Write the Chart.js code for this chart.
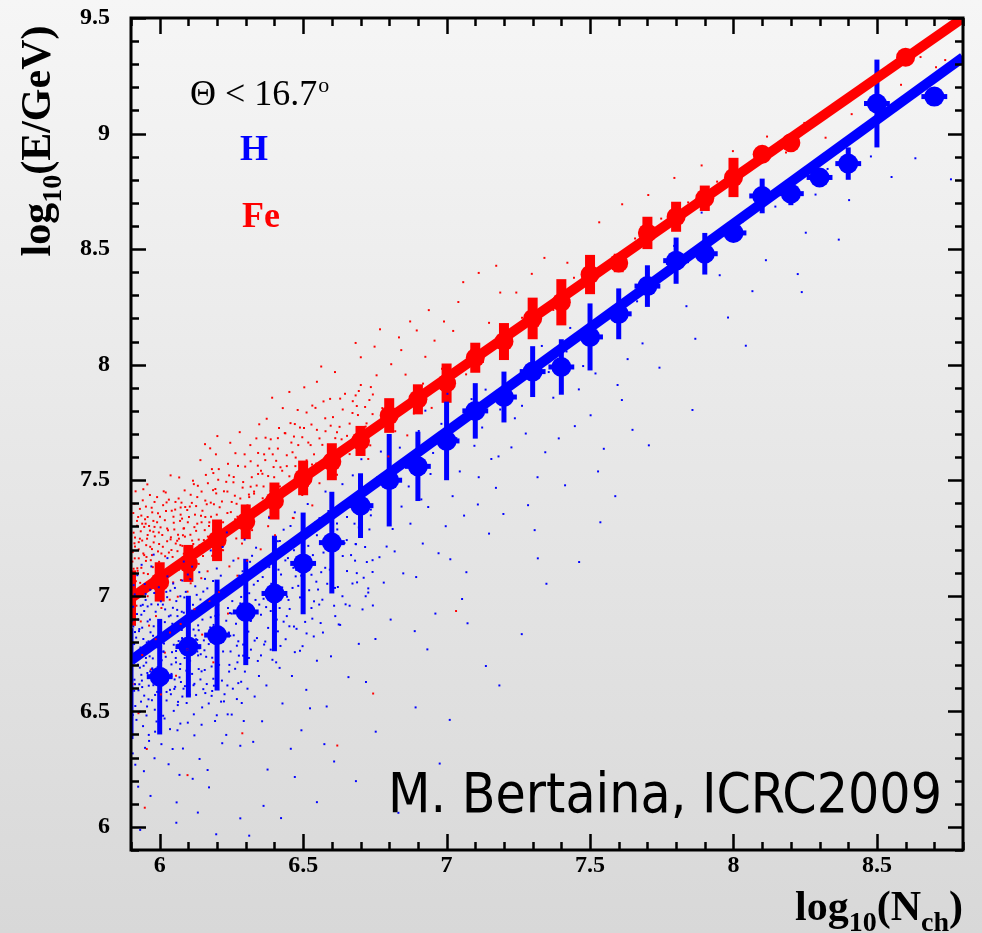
<!DOCTYPE html>
<html>
<head>
<meta charset="utf-8">
<script src="https://cdn.jsdelivr.net/npm/chart.js@4.4.1/dist/chart.umd.min.js"></script>
<style>
  html, body { margin: 0; padding: 0; }
  body { width: 982px; height: 933px; overflow: hidden; background: linear-gradient(#f6f6f6, #d8d8d8); }
  canvas { display: block; }
</style>
</head>
<body>
<canvas id="chart" width="982" height="933"></canvas>
<script>
// binned means, H (blue); the 5.9 bin sits on the frame, only its bar shows
const hX   = [5.9, 6.0, 6.1, 6.2, 6.3, 6.4, 6.5, 6.6, 6.7, 6.8, 6.9, 7.0, 7.1, 7.2, 7.3, 7.4, 7.5, 7.6, 7.7, 7.8, 7.9, 8.0, 8.1, 8.2, 8.3, 8.4, 8.5, 8.7];
const hY   = [6.62, 6.65, 6.78, 6.83, 6.93, 7.01, 7.14, 7.23, 7.39, 7.50, 7.56, 7.67, 7.80, 7.86, 7.97, 7.99, 8.12, 8.22, 8.34, 8.45, 8.48, 8.57, 8.73, 8.74, 8.81, 8.87, 9.13, 9.16];
const hErr = [0.24, 0.25, 0.22, 0.24, 0.23, 0.25, 0.22, 0.22, 0.14, 0.20, 0.15, 0.17, 0.12, 0.11, 0.11, 0.12, 0.145, 0.11, 0.09, 0.10, 0.09, 0.03, 0.075, 0.05, 0.02, 0.07, 0.19, 0.02];

// binned means, Fe (red)
const feX   = [5.9, 6.0, 6.1, 6.2, 6.3, 6.4, 6.5, 6.6, 6.7, 6.8, 6.9, 7.0, 7.1, 7.2, 7.3, 7.4, 7.5, 7.6, 7.7, 7.8, 7.9, 8.0, 8.1, 8.2, 8.6];
const feY   = [6.99, 7.06, 7.14, 7.24, 7.32, 7.41, 7.51, 7.58, 7.67, 7.78, 7.85, 7.92, 8.03, 8.10, 8.20, 8.27, 8.39, 8.44, 8.57, 8.64, 8.72, 8.81, 8.91, 8.96, 9.33];
const feErr = [0.12, 0.085, 0.08, 0.09, 0.075, 0.08, 0.075, 0.08, 0.065, 0.075, 0.065, 0.085, 0.065, 0.08, 0.09, 0.10, 0.085, 0.04, 0.07, 0.065, 0.055, 0.085, 0.02, 0.02, 0.02];

// linear fits (end points)
const hFitX  = [5.9, 8.8];
const hFitY  = [6.72, 9.33];
const feFitX = [5.9, 8.8];
const feFitY = [6.99, 9.50];

// simulated events, H
const hCloud = [
  [5.917,6.734],[6.062,6.418],[5.948,7.051],[6.091,6.889],[5.903,6.552],[6.027,7.163],[5.982,6.297],[6.074,6.627],[5.936,6.918],[6.012,6.481],
  [5.961,6.803],[6.098,7.092],[5.925,6.174],[6.043,6.756],[5.994,6.962],[6.081,6.339],[5.908,6.867],[6.036,6.593],[5.971,7.127],[6.057,6.712],
  [5.942,6.436],[6.019,6.941],[5.987,6.648],[6.069,6.225],[5.913,7.006],[6.048,6.874],[5.956,6.521],[6.088,6.784],[5.931,6.689],[6.006,6.358],
  [5.977,6.827],[6.053,7.034],[5.919,6.463],[6.095,6.569],[5.951,6.982],[6.031,6.271],[5.998,6.739],[6.077,6.931],[5.906,6.318],[6.041,6.662],
  [5.966,6.897],[6.084,7.148],[5.939,6.605],[6.015,6.794],[5.984,6.412],[6.066,6.853],[5.922,7.089],[6.049,6.502],[5.958,6.761],[6.093,6.676],
  [5.945,6.241],[6.023,7.017],[5.991,6.584],[6.072,6.447],[5.911,6.791],[6.038,6.915],[5.974,6.686],[6.059,6.106],[5.928,6.847],[6.003,6.541],
  [5.963,6.372],[6.086,6.993],[5.934,6.957],[6.017,6.628],[5.979,7.178],[6.064,6.788],[5.915,6.523],[6.045,6.337],[5.953,6.711],[6.079,6.564],
  [5.902,6.713],[6.033,6.829],[5.946,6.934],[6.118,6.854],[5.984,6.571],[6.072,6.998],[5.918,6.819],[6.157,6.679],[6.009,6.612],[5.955,6.798],
  [6.101,6.604],[5.935,6.542],[6.046,6.948],[6.178,6.907],[5.971,6.963],[6.087,6.731],[5.911,6.589],[6.129,7.004],[6.018,6.886],[5.962,6.611],
  [6.063,6.527],[6.194,6.821],[5.926,6.897],[6.041,6.703],[5.997,7.037],[6.142,6.638],[5.947,6.769],[6.078,6.817],[6.166,7.032],[5.989,6.802],
  [6.024,6.584],[5.907,6.953],[6.111,6.936],[5.976,6.729],[6.057,6.761],[6.183,6.588],[5.938,6.633],[6.094,6.882],[6.004,6.976],[5.958,6.889],
  [6.137,6.773],[6.069,6.647],[5.921,6.741],[6.028,6.844],[6.171,6.791],[5.983,6.507],[6.106,6.719],[5.951,7.008],[6.051,6.597],[6.149,6.962],
  [5.929,6.856],[6.084,6.774],[6.013,6.758],[5.967,6.673],[6.124,6.828],[6.037,7.022],[5.914,6.617],[6.188,6.874],[5.993,6.692],[6.061,6.939],
  [6.127,6.812],[6.263,7.034],[6.148,6.517],[6.291,6.741],[6.113,7.126],[6.232,6.398],[6.184,6.955],[6.274,6.622],[6.136,6.683],[6.219,7.211],
  [6.167,6.246],[6.288,6.903],[6.105,6.572],[6.246,6.827],[6.193,6.458],[6.257,7.152],[6.142,6.984],[6.207,6.701],[6.176,6.863],[6.281,6.351],
  [6.121,6.396],[6.238,6.947],[6.158,7.073],[6.296,7.243],[6.131,6.759],[6.224,6.543],[6.187,6.641],[6.269,6.784],[6.109,6.921],[6.251,6.486],
  [6.172,6.171],[6.213,7.019],[6.154,6.807],[6.284,6.995],[6.118,6.613],[6.242,6.672],[6.199,7.118],[6.266,6.879],[6.139,6.294],[6.228,6.836],
  [6.181,6.567],[6.293,6.458],[6.124,7.041],[6.204,6.918],[6.162,6.736],[6.277,7.087],[6.146,6.442],[6.255,6.598],[6.191,6.792],[6.234,7.274],
  [6.115,6.208],[6.271,6.712],[6.169,6.981],[6.218,6.362],[6.134,6.872],[6.299,6.846],[6.178,7.196],[6.245,6.925],[6.152,6.596],[6.286,6.536],
  [5.904,6.892],[6.171,6.534],[5.929,6.617],[6.312,7.011],[6.058,6.977],[5.962,6.398],[6.247,6.759],[6.103,6.842],[5.943,6.813],[6.284,6.628],
  [6.017,6.469],[5.986,6.931],[6.138,7.102],[6.226,6.574],[5.915,6.269],[6.072,6.705],[6.331,6.806],[5.957,6.666],[6.194,6.913],[6.044,6.879],
  [5.992,6.777],[6.261,7.061],[6.119,6.487],[5.937,7.134],[6.346,6.653],[6.083,6.598],[5.973,6.548],[6.209,6.821],[6.027,7.084],[5.918,6.752],
  [6.156,6.764],[6.298,6.913],[5.949,6.342],[6.064,6.541],[6.237,6.487],[5.981,7.012],[6.113,6.662],[6.322,7.173],[6.008,6.679],[5.926,6.591],
  [6.186,7.064],[6.049,6.788],[5.968,6.842],[6.274,6.803],[6.131,6.926],[5.909,7.046],[6.217,6.633],[6.091,7.017],[5.954,6.482],[6.339,6.934],
  [6.036,6.423],[6.164,6.618],[5.997,6.869],[6.253,6.977],[6.077,6.852],[5.933,6.776],[6.306,6.598],[6.143,6.747],[6.021,6.736],[5.978,6.613],
  [6.199,6.483],[6.098,6.451],[5.941,6.961],[6.289,7.106],[6.052,6.638],[6.174,6.851],[5.912,6.637],[6.232,6.892],[6.011,6.962],[6.127,6.571],
  [5.965,6.738],[6.318,6.767],[6.084,6.927],[6.243,6.701],[5.989,6.456],[6.152,7.018],[6.039,6.574],[5.921,6.921],[6.269,6.553],[6.109,6.786],
  [5.958,6.954],[6.213,7.087],[6.066,6.804],[6.297,6.672],[6.003,6.886],[6.181,6.694],[5.946,6.568],[6.136,6.851],[6.328,7.048],[6.024,6.547],
  [5.974,6.683],[6.258,6.829],[6.094,6.536],[6.167,6.953],[5.931,6.498],[6.221,6.759],[6.047,7.053],[6.309,6.845],[5.999,6.591],[6.116,6.961],
  [5.914,6.843],[6.189,6.611],[6.071,6.683],[6.281,6.967],[5.952,6.731],[6.146,6.673],[6.032,6.911],[6.236,6.612],[5.983,6.782],[6.342,6.718],
  [6.107,7.072],[5.939,6.862],[6.204,6.961],[6.056,6.731],[6.263,6.684],[6.014,6.813],[6.159,6.579],[5.967,7.026],[6.317,6.891],[6.088,6.609],
  [6.228,7.031],[5.906,6.484],[6.134,6.742],[6.041,6.651],[6.291,6.789],[5.979,6.868],[6.198,6.768],[6.062,6.912],[5.944,6.697],[6.251,6.923],
  [6.121,6.619],[6.007,6.721],[6.334,6.982],[6.178,6.824],[5.961,6.552],[6.079,7.066],[6.214,6.542],[6.026,6.994],[5.924,6.702],[6.304,6.733],
  [6.149,6.897],[5.993,6.648],[6.241,6.841],[6.096,6.768],[5.936,6.658],[6.183,6.732],[6.054,6.606],[6.276,6.741],[6.013,6.759],[6.131,6.809],
  [6.318,6.893],[6.447,7.163],[6.372,6.612],[6.521,7.024],[6.336,7.208],[6.489,6.762],[6.404,6.981],[6.543,7.318],[6.357,6.457],[6.468,6.867],
  [6.311,6.731],[6.432,7.286],[6.389,7.052],[6.511,6.593],[6.347,6.962],[6.476,7.112],[6.418,6.688],[6.537,6.824],[6.326,6.368],[6.453,6.943],
  [6.381,7.338],[6.502,7.207],[6.364,6.789],[6.494,6.418],[6.423,7.092],[6.529,6.947],[6.342,7.064],[6.461,6.653],[6.397,6.859],[6.516,7.397],
  [6.331,6.564],[6.439,6.812],[6.376,6.248],[6.483,7.043],[6.412,7.236],[6.548,6.719],[6.353,6.918],[6.471,7.361],[6.428,6.534],[6.507,6.887],
  [6.315,7.147],[6.444,6.996],[6.393,6.723],[6.534,7.176],[6.368,7.131],[6.457,6.338],[6.408,6.897],[6.498,6.782],[6.339,6.817],[6.524,6.513],
  [6.362,6.987],[6.548,7.262],[6.421,6.783],[6.687,7.098],[6.394,7.182],[6.612,6.912],[6.463,7.034],[6.731,7.287],[6.378,6.861],[6.577,7.121],
  [6.438,7.153],[6.653,7.341],[6.512,6.837],[6.406,6.712],[6.718,6.998],[6.483,7.258],[6.567,6.983],[6.359,7.081],[6.638,7.172],[6.452,6.868],
  [6.701,7.412],[6.529,7.091],[6.387,6.934],[6.596,7.263],[6.471,6.756],[6.662,6.957],[6.419,7.237],[6.742,7.154],[6.538,6.976],[6.368,6.802],
  [6.621,7.038],[6.497,7.161],[6.683,7.224],[6.443,6.912],[6.557,7.336],[6.399,7.008],[6.711,7.078],[6.518,7.216],[6.629,6.874],[6.474,7.084],
  [6.382,7.124],[6.584,7.052],[6.456,7.302],[6.694,7.296],[6.532,6.901],[6.412,6.846],[6.644,7.228],[6.489,6.993],[6.736,7.373],[6.571,7.187],
  [6.353,6.742],[6.604,7.124],[6.468,7.197],[6.672,7.053],[6.427,7.036],[6.546,7.061],[6.716,7.211],[6.503,6.938],[6.387,6.767],[6.618,7.313],
  [6.449,6.982],[6.681,7.152],[6.561,6.882],[6.414,7.113],[6.727,7.032],[6.493,7.087],[6.637,6.998],[6.371,6.951],[6.589,7.218],[6.477,6.857],
  [6.653,7.107],[6.432,6.888],[6.701,7.326],[6.523,7.132],[6.396,7.062],[6.608,6.957],[6.466,7.121],[6.742,7.103],[6.552,7.027],[6.418,6.947],
  [6.563,7.102],[6.712,7.418],[6.624,6.876],[6.791,7.213],[6.588,7.367],[6.743,6.958],[6.652,7.241],[6.828,7.537],[6.597,6.738],[6.688,7.058],
  [6.771,7.624],[6.556,6.962],[6.637,7.483],[6.805,6.897],[6.679,7.312],[6.722,7.146],[6.573,7.238],[6.843,7.386],[6.611,7.034],[6.758,7.512],
  [6.694,6.792],[6.819,7.192],[6.582,6.521],[6.667,7.176],[6.736,7.348],[6.604,7.436],[6.781,7.057],[6.648,6.963],[6.837,7.641],[6.569,6.841],
  [6.703,7.591],[6.752,6.813],[6.619,7.287],[6.796,7.438],[6.684,7.223],[6.593,7.113],[6.727,7.014],[6.812,7.289],[6.658,6.648],[6.766,7.167],
  [6.631,7.392],[6.707,6.941],[6.578,7.451],[6.849,7.097],[6.673,7.521],
  [6.868,7.473],[7.034,7.682],[6.917,7.226],[7.112,7.513],[6.953,7.618],[7.187,7.806],[6.894,7.081],[7.061,7.347],[6.982,7.744],[7.148,7.269],
  [6.881,7.568],[7.013,7.158],[6.936,7.384],[7.226,7.642],[7.087,7.851],[6.961,6.923],[7.172,7.467],[6.903,7.713],[7.046,7.538],[6.997,7.301],
  [7.124,7.728],[6.874,7.312],[7.213,7.913],[6.944,7.527],[7.069,7.102],[7.156,7.592],[6.926,7.801],[7.021,7.431],[7.198,7.354],[6.889,6.847],
  [7.097,7.649],[6.972,7.184],[7.238,7.768],[7.003,7.874],[6.912,7.417],[7.136,7.892],[7.054,6.986],[7.181,7.603],[6.958,7.669],[7.109,7.395],
  [7.263,7.822],[7.418,8.057],[7.317,7.513],[7.502,7.781],[7.356,7.968],[7.587,8.186],[7.284,7.392],[7.461,7.893],[7.391,7.681],[7.631,8.024],
  [7.332,8.081],[7.548,7.636],[7.276,7.702],[7.487,8.132],[7.372,7.857],[7.664,8.274],[7.413,7.478],[7.519,7.962],[7.298,7.948],[7.611,7.847],
  [7.447,7.734],[7.683,8.092],[7.344,7.621],[7.564,8.231],[7.431,8.159],[7.528,7.538],[7.307,7.284],[7.648,7.718],[7.476,7.994],[7.596,7.912],
  [7.718,8.341],[7.867,8.112],[7.793,8.514],[7.952,8.387],[7.742,7.987],[8.031,8.618],[7.836,8.253],[8.113,8.452],[7.904,8.564],[8.187,8.763],
  [7.981,8.204],[8.252,8.571],[7.768,8.436],[8.066,8.318],[8.328,8.847],[8.146,8.684],[8.403,8.712],[7.889,8.658],[8.224,8.392],[8.479,8.901],
  [8.286,8.736],[8.551,8.812],[8.367,8.541],[8.634,8.893],[8.758,8.802],
  [6.608,6.283],[6.684,6.198],[6.753,6.412],[6.892,6.517],[7.011,6.463],[7.137,6.696],[7.262,6.834],[7.348,7.052],[7.462,7.146],[6.548,6.107],
  [6.423,6.038],[6.312,5.962],[7.588,7.431],[7.705,7.651],[7.857,7.804],[8.043,8.082],[8.238,8.314],[7.184,6.612],[6.976,6.274],[6.832,6.061],
  [6.471,6.216],[6.362,6.091],[6.574,6.358],[6.719,6.627],[6.933,6.768],[7.073,6.881],[7.318,7.162],[7.536,7.318],[6.281,6.037],[6.197,5.968],
  [5.932,5.987],[6.058,6.018],[6.133,6.062],[5.968,6.134]
];

// simulated events, Fe
const feCloud = [
  [5.914,7.213],[6.047,7.058],[5.952,7.386],[6.083,7.291],[5.907,6.934],[6.021,7.447],[5.976,7.124],[6.068,7.512],[5.938,7.018],[6.009,7.263],
  [5.963,6.871],[6.094,7.164],[5.925,7.341],[6.035,6.983],[5.991,7.427],[6.072,7.219],[5.903,7.087],[6.054,7.373],[5.946,7.176],[6.016,7.034],
  [5.982,7.298],[6.087,7.456],[5.919,6.957],[6.041,7.198],[5.957,7.482],[6.063,6.996],[5.931,7.247],[6.003,7.136],[5.969,7.041],[6.078,7.334],
  [5.912,7.398],[6.029,7.284],[5.987,6.912],[6.091,7.087],[5.943,7.461],[6.012,7.392],[5.973,7.202],[6.058,7.143],[5.922,7.119],[6.038,7.521],
  [5.958,6.998],[6.081,7.262],[5.909,7.273],[6.024,7.108],[5.994,7.357],[6.066,7.421],[5.934,6.889],[6.049,7.316],[5.966,7.436],[6.097,7.018],
  [5.927,7.162],[6.006,6.947],[5.979,7.231],[6.074,7.068],[5.951,7.312],[6.032,7.416],[5.916,7.452],[6.089,7.384],[5.985,7.071],[6.061,7.238],
  [5.906,7.189],[6.038,7.244],[5.949,7.331],[6.121,7.297],[5.987,7.103],[6.073,7.382],[5.921,7.303],[6.159,7.412],[6.011,7.212],[5.958,7.263],
  [6.102,7.341],[5.936,7.347],[6.047,7.123],[6.179,7.342],[5.972,7.381],[6.088,7.187],[5.913,7.162],[6.133,7.476],[6.019,7.171],[5.963,7.302],
  [6.064,7.264],[6.197,7.443],[5.927,7.232],[6.042,7.368],[5.998,7.147],[6.146,7.318],[5.944,7.098],[6.079,7.216],[6.168,7.256],[5.991,7.318],
  [6.026,7.291],[5.909,7.117],[6.113,7.239],[5.978,7.277],[6.055,7.406],[6.186,7.287],[5.939,7.312],[6.096,7.371],[6.001,7.342],[5.954,7.168],
  [5.905,7.148],[6.173,7.318],[5.934,7.279],[6.312,7.427],[6.062,7.193],[5.959,7.094],[6.248,7.362],[6.107,7.264],[5.941,7.413],[6.283,7.297],
  [6.018,7.327],[5.988,7.016],[6.139,7.218],[6.224,7.452],[5.917,7.063],[6.073,7.351],[6.337,7.372],[5.956,7.247],[6.192,7.267],[6.045,7.168],
  [5.994,7.192],[6.262,7.433],[6.116,7.498],[5.936,7.121],[6.343,7.618],[6.084,7.182],[5.974,7.361],[6.208,7.311],[6.026,7.236],[5.921,7.324],
  [6.157,7.284],[6.296,7.612],[5.948,7.036],[6.067,7.247],[6.236,7.358],[5.982,7.406],[6.112,7.163],[6.321,7.513],[6.006,7.183],[5.927,7.201],
  [6.186,7.457],[6.051,7.287],[5.969,7.154],[6.273,7.562],[6.131,7.312],[5.908,7.358],[6.217,7.408],[6.092,7.211],[5.953,7.219],[6.338,7.477],
  [6.037,7.096],[6.164,7.396],[5.997,7.274],[6.254,7.283],[6.076,7.403],[5.932,7.056],[6.306,7.391],[6.144,7.346],[6.022,7.367],[5.978,7.324],
  [6.199,7.351],[6.098,7.318],[5.943,7.183],[6.289,7.468],[6.053,7.128],[6.175,7.212],[5.912,7.227],[6.233,7.282],[6.011,7.064],[6.127,7.388],
  [5.966,7.282],[6.317,7.582],[6.085,7.292],[6.242,7.521],[5.989,7.138],[6.151,7.172],[6.039,7.253],[5.923,7.108],[6.268,7.398],[6.108,7.437],
  [5.958,7.341],[6.213,7.236],[6.067,7.113],[6.297,7.342],[6.003,7.296],[6.182,7.548],[5.946,7.298],[6.136,7.243],[6.329,7.442],[6.024,7.404],
  [5.973,7.176],[6.257,7.491],[6.094,7.146],[6.168,7.487],[5.931,7.376],[6.221,7.197],[6.048,7.342],[6.309,7.307],[5.998,7.224],[6.117,7.224],
  [5.914,7.252],[6.189,7.396],[6.071,7.324],[6.281,7.421],[5.952,7.151],[6.146,7.451],[6.032,7.187],[6.236,7.451],[5.983,7.257],[6.342,7.563],
  [6.105,7.386],[5.939,7.239],[6.204,7.502],[6.056,7.226],[6.263,7.331],[6.014,7.452],[6.159,7.341],[5.967,7.212],[6.317,7.472],[6.088,7.256],
  [6.123,7.351],[6.258,7.514],[6.167,7.106],[6.311,7.438],[6.142,7.587],[6.226,7.273],[6.194,7.462],[6.337,7.681],[6.114,7.192],[6.271,7.342],
  [6.176,7.638],[6.243,7.127],[6.131,7.427],[6.298,7.559],[6.209,7.383],[6.154,7.241],[6.322,7.284],[6.187,7.531],[6.264,7.617],[6.108,7.054],
  [6.232,7.493],[6.149,7.368],[6.287,7.226],[6.201,7.691],[6.343,7.527],[6.136,7.138],[6.251,7.406],[6.172,7.302],[6.316,7.652],[6.217,7.198],
  [6.119,7.483],[6.279,7.708],[6.183,7.173],[6.238,7.571],[6.161,7.523],[6.304,7.363],[6.127,7.281],[6.267,7.248],[6.196,7.612],[6.329,7.451],
  [6.145,7.076],[6.246,7.662],[6.112,7.402],[6.291,7.492],[6.221,7.318],[6.178,7.403],[6.347,7.742],[6.158,7.656],[6.274,7.162],[6.206,7.548],
  [6.364,7.612],[6.512,7.793],[6.421,7.418],[6.587,7.648],[6.392,7.857],[6.473,7.561],[6.548,7.926],[6.381,7.342],[6.627,7.731],[6.436,7.704],
  [6.497,7.436],[6.358,7.528],[6.569,7.583],[6.452,7.882],[6.611,7.968],[6.407,7.483],[6.526,7.652],[6.373,7.766],[6.638,7.612],[6.464,7.337],
  [6.543,7.813],[6.412,7.637],[6.594,7.852],[6.386,7.412],[6.489,7.728],[6.618,7.524],[6.443,7.561],[6.557,7.487],[6.369,7.684],[6.504,7.902],
  [6.429,7.812],[6.578,7.712],[6.397,7.557],[6.531,7.568],[6.646,7.874],[6.459,7.663],[6.602,7.643],[6.378,7.301],[6.517,7.476],[6.481,7.804],
  [6.563,7.992],[6.416,7.726],[6.634,7.677],[6.448,7.463],[6.584,7.558],
  [6.362,7.473],[6.548,7.718],[6.421,7.556],[6.687,7.821],[6.394,7.612],[6.612,7.682],[6.463,7.621],[6.731,7.847],[6.378,7.518],[6.577,7.768],
  [6.438,7.703],[6.653,7.692],[6.512,7.586],[6.406,7.584],[6.718,7.732],[6.483,7.652],[6.567,7.653],[6.359,7.422],[6.638,7.806],[6.452,7.517],
  [6.701,7.912],[6.529,7.741],[6.387,7.677],[6.596,7.736],[6.471,7.743],[6.662,7.745],[6.419,7.473],[6.742,7.786],[6.538,7.612],[6.368,7.587],
  [6.621,7.622],[6.497,7.686],[6.683,7.867],[6.443,7.608],[6.557,7.681],[6.399,7.513],[6.711,7.677],[6.518,7.663],[6.629,7.853],[6.474,7.598],
  [6.382,7.637],[6.584,7.608],[6.456,7.747],[6.694,7.712],[6.532,7.823],[6.412,7.682],[6.644,7.641],[6.489,7.574],[6.736,7.903],[6.571,7.841],
  [6.353,7.541],[6.604,7.773],[6.468,7.689],[6.672,7.791],[6.427,7.541],[6.546,7.572],[6.716,7.817],[6.503,7.726],[6.387,7.454],[6.618,7.708],
  [6.673,7.842],[6.842,8.063],[6.734,7.651],[6.918,7.918],[6.701,8.032],[6.787,7.778],[6.873,8.187],[6.662,7.613],[6.958,8.104],[6.756,7.954],
  [6.821,7.712],[6.694,7.886],[6.903,7.852],[6.768,8.153],[6.984,7.982],[6.721,7.746],[6.857,7.957],[6.683,8.094],[6.938,8.236],[6.797,7.603],
  [6.886,7.789],[6.743,7.871],[6.967,7.896],[6.712,7.668],[6.834,8.118],[6.926,8.034],[6.776,7.812],[6.863,7.694],[6.691,7.782],[6.948,7.813],
  [6.807,8.002],[6.749,8.078],[6.991,8.187],[6.727,7.592],[6.896,8.148],
  [7.023,8.146],[7.187,8.312],[7.068,7.958],[7.263,8.203],[7.112,8.397],[7.341,8.462],[7.041,8.271],[7.214,8.067],[7.148,8.181],[7.392,8.318],
  [7.086,8.062],[7.297,8.393],[7.173,8.428],[7.013,7.912],[7.243,8.312],[7.421,8.441],[7.127,8.012],[7.318,8.168],[7.058,8.357],[7.372,8.237],
  [7.202,8.154],[7.444,8.376],
  [7.486,8.402],[7.532,8.616],[7.578,8.457],[7.612,8.694],[7.657,8.546],[7.703,8.734],[7.748,8.632],[7.794,8.808],[7.842,8.702],[7.889,8.862],
  [7.943,8.792],[7.998,8.924],[8.052,8.852],[8.117,8.987],[8.183,8.918],[8.247,9.046],[8.321,8.982],[8.412,9.084],[8.584,9.211],[8.706,9.287],
  [8.652,9.331],[8.738,9.318],
  [5.912,6.618],[5.926,6.492],[5.939,6.744],[5.955,6.337],[5.969,6.681],[5.986,6.812],[6.004,6.573],[6.018,6.754],[6.036,6.841],[6.057,6.654],
  [6.073,6.878],[6.096,6.768],[6.121,6.942],[6.148,6.832],[6.173,6.977],[6.207,7.016],[6.238,6.923],[6.271,7.087],[6.305,7.152],[6.352,7.201],
  [6.402,7.262],[6.467,7.336],[6.532,7.391],[6.097,6.224],[6.288,6.405],[6.619,6.352],[6.744,6.577],[7.033,6.934],[5.948,6.083],[6.187,6.712]
];

// axis ticks
const xTickVals   = [6, 6.5, 7, 7.5, 8, 8.5];
const xTickLabels = ['6', '6.5', '7', '7.5', '8', '8.5'];
const yTickVals   = [6, 6.5, 7, 7.5, 8, 8.5, 9, 9.5];
const yTickLabels = ['6', '6.5', '7', '7.5', '8', '8.5', '9', '9.5'];

const BLUE = '#0000ff';
const RED = '#ff0000';
const SERIF = "'Liberation Serif', 'Times New Roman', serif";

const pts = (xs, ys) => xs.map((x, i) => ({ x, y: ys[i] }));
// marker hidden when the bin centre lies on the frame edge
const markerSize = (r) => (c) => (c.raw && c.raw.x <= 5.9 ? 0 : r);

// vertical/horizontal error bars, drawn under the markers
const errorBars = {
  id: 'errorBars',
  beforeDatasetDraw(chart, args) {
    const ds = chart.data.datasets[args.index];
    if (!ds.errY) return;
    const { ctx, chartArea: a, scales: { x, y } } = chart;
    ctx.save();
    ctx.beginPath();
    ctx.rect(a.left, a.top, a.width, a.height);
    ctx.clip();
    ctx.fillStyle = ds.backgroundColor;
    ds.data.forEach((p, i) => {
      const px = x.getPixelForValue(p.x);
      const py = y.getPixelForValue(p.y);
      const top = y.getPixelForValue(p.y + ds.errY[i]);
      const bot = y.getPixelForValue(p.y - ds.errY[i]);
      ctx.fillRect(px - ds.barW / 2, top, ds.barW, bot - top);
      if (p.x <= 5.9) return;
      const l = x.getPixelForValue(p.x - ds.errX);
      const r = x.getPixelForValue(p.x + ds.errX);
      ctx.fillRect(l, py - ds.stubW / 2, r - l, ds.stubW);
    });
    ctx.restore();
  }
};

// ROOT-style frame with inward ticks, titles and labels
const decorations = {
  id: 'decorations',
  afterDraw(chart) {
    const { ctx, chartArea: a, scales: { x, y } } = chart;
    ctx.save();
    ctx.strokeStyle = '#000';
    ctx.lineWidth = 2.5;
    ctx.beginPath();
    for (let k = 59; k <= 88; k++) {
      const px = Math.round(x.getPixelForValue(k / 10)) + 0.5;
      const len = k % 5 === 0 ? 16 : 8;
      ctx.moveTo(px, a.bottom); ctx.lineTo(px, a.bottom - len);
      ctx.moveTo(px, a.top); ctx.lineTo(px, a.top + len);
    }
    for (let k = 59; k <= 95; k++) {
      const py = Math.round(y.getPixelForValue(k / 10)) + 0.5;
      const len = k % 5 === 0 ? 15 : 8;
      ctx.moveTo(a.left, py); ctx.lineTo(a.left + len, py);
      ctx.moveTo(a.right, py); ctx.lineTo(a.right - len, py);
    }
    ctx.stroke();
    ctx.lineWidth = 3;
    ctx.strokeRect(a.left, a.top, a.right - a.left, a.bottom - a.top);

    // text with subscripts
    const runs = (parts) => parts.reduce((w, p) => { ctx.font = p.font; return w + ctx.measureText(p.t).width; }, 0);
    const drawRuns = (parts, x0, y0) => {
      let cx = x0;
      parts.forEach(p => { ctx.font = p.font; ctx.fillText(p.t, cx, y0 + (p.dy || 0)); cx += ctx.measureText(p.t).width; });
    };
    ctx.fillStyle = '#000';
    ctx.textBaseline = 'alphabetic';
    ctx.textAlign = 'left';
    const big = 'bold 42px ' + SERIF, sub = 'bold 28px ' + SERIF;

    const yTitle = [{ t: 'log', font: big }, { t: '10', font: sub, dy: 11 }, { t: '(E/GeV)', font: big }];
    const wy = runs(yTitle);
    ctx.save();
    ctx.translate(50, 141);
    ctx.rotate(-Math.PI / 2);
    drawRuns(yTitle, -wy / 2, 0);
    ctx.restore();

    const xTitle = [{ t: 'log', font: big }, { t: '10', font: sub, dy: 11 }, { t: '(N', font: big }, { t: 'ch', font: sub, dy: 11 }, { t: ')', font: big }];
    const wx = runs(xTitle);
    drawRuns(xTitle, a.right - wx, 920);

    // cut and legend
    ctx.font = '36px ' + SERIF;
    ctx.fillText('\u0398 < 16.7', 190, 105);
    const wt = ctx.measureText('\u0398 < 16.7').width;
    ctx.font = '22px ' + SERIF;
    ctx.fillText('o', 190 + wt + 1, 92);
    ctx.font = 'bold 36px ' + SERIF;
    ctx.fillStyle = BLUE;
    ctx.fillText('H', 240, 160);
    ctx.fillStyle = RED;
    ctx.fillText('Fe', 242, 227);

    ctx.fillStyle = '#000';
    ctx.font = "55px 'DejaVu Sans Condensed', 'DejaVu Sans', sans-serif";
    ctx.fillText('M. Bertaina, ICRC2009', 388, 812, 554);
    ctx.restore();
  }
};

new Chart(document.getElementById('chart'), {
  type: 'scatter',
  data: {
    datasets: [
      { data: hCloud.map(([x, y]) => ({ x, y })), backgroundColor: BLUE, borderWidth: 0, pointRadius: 1.4, pointStyle: 'rect' },
      { data: feCloud.map(([x, y]) => ({ x, y })), backgroundColor: RED, borderWidth: 0, pointRadius: 1.4, pointStyle: 'rect' },
      { type: 'line', data: pts(feFitX, feFitY), borderColor: RED, borderWidth: 10, pointRadius: 0, fill: false },
      { type: 'line', data: pts(hFitX, hFitY), borderColor: BLUE, borderWidth: 10, pointRadius: 0, fill: false },
      { data: pts(hX, hY), errY: hErr, errX: 0.045, barW: 5, stubW: 5, backgroundColor: BLUE, borderWidth: 0, pointRadius: markerSize(10) },
      { data: pts(feX, feY), errY: feErr, errX: 0.03, barW: 10, stubW: 4, backgroundColor: RED, borderWidth: 0, pointRadius: markerSize(9.5) }
    ]
  },
  options: {
    responsive: false,
    animation: false,
    events: [],
    layout: { padding: { top: 18, right: 19, left: 0, bottom: 0 } },
    plugins: { legend: { display: false }, tooltip: { enabled: false } },
    scales: {
      x: {
        type: 'linear', min: 5.9, max: 8.8,
        afterBuildTicks: s => { s.ticks = xTickVals.map(value => ({ value })); },
        afterFit: s => { s.height = 83; s.paddingLeft = 0; s.paddingRight = 0; },
        grid: { display: false, drawTicks: false },
        border: { display: false },
        ticks: {
          callback: (v, i) => xTickLabels[i],
          font: { family: SERIF, weight: 'bold', size: 24 }, color: '#000',
          padding: 1, maxRotation: 0, autoSkip: false
        }
      },
      y: {
        type: 'linear', min: 5.9, max: 9.5,
        afterBuildTicks: s => { s.ticks = yTickVals.map(value => ({ value })); },
        afterFit: s => { s.width = 131; s.paddingTop = 0; s.paddingBottom = 0; },
        grid: { display: false, drawTicks: false },
        border: { display: false },
        ticks: {
          callback: (v, i) => yTickLabels[i],
          font: { family: SERIF, weight: 'bold', size: 24 }, color: '#000',
          padding: 21, autoSkip: false
        }
      }
    }
  },
  plugins: [errorBars, decorations]
});
</script>
</body>
</html>
